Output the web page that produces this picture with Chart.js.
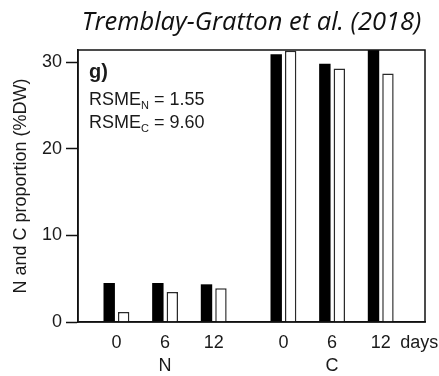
<!DOCTYPE html>
<html>
<head>
<meta charset="utf-8">
<script src="https://cdn.jsdelivr.net/npm/chart.js@4.4.1/dist/chart.umd.min.js"></script>
<style>
  html, body { margin: 0; padding: 0; background: #fff; }
  #wrap { width: 439px; height: 376px; position: relative; }
</style>
</head>
<body>
<div id="wrap"><canvas id="chart"></canvas></div>
<script>
// Proportions N et C (%DW) : mesuré (noir) / simulé (blanc), à 0, 6 et 12 jours
const days = ['0', '6', '12'];
const groups = ['N', 'C'];
const measuredN = [4.5, 4.5, 4.35];
const simulatedN = [1.15, 3.45, 3.9];
const measuredC = [30.9, 29.8, 33.0];
const simulatedC = [31.3, 29.25, 28.7];
const yTicks = [0, 10, 20, 30];
const rsmeN = '1.55';
const rsmeC = '9.60';
const titleText = 'Tremblay-Gratton et al. (2018)';

const FONT = "'Liberation Sans', Arial, sans-serif";
const INK = '#1a1a1a';

// Positions sur l'axe x : un espace un peu plus large entre les groupes N et C
const groupGap = 1.433;
const pos = [];
groups.forEach((g, gi) => days.forEach((d, i) => pos.push(gi * (days.length - 1 + groupGap) + i)));
const xMax = pos[pos.length - 1] + 0.91;
const daysPos = pos[pos.length - 1] + 0.79;

const tickLabels = [];
groups.forEach(g => days.forEach((d, i) => tickLabels.push(i === 1 ? [d, g] : d)));
tickLabels.push('days');

const toPoints = arr => arr.map((v, k) => ({ x: pos[k], y: v }));

const overlay = {
    id: 'overlay',
    afterDraw(chart) {
        const { ctx, chartArea: a } = chart;
        ctx.save();
        // cadre complet autour de la zone de tracé
        ctx.strokeStyle = '#111';
        ctx.lineWidth = 1.5;
        ctx.strokeRect(a.left, a.top, a.right - a.left, a.bottom - a.top);

        // titre
        ctx.fillStyle = '#111';
        ctx.textAlign = 'center';
        ctx.textBaseline = 'alphabetic';
        ctx.font = "italic 25.5px 'Open Sans', Lato, sans-serif";
        ctx.fillText(titleText, (a.left + a.right) / 2, 30);

        // étiquette du panneau et RSME
        ctx.textAlign = 'left';
        ctx.fillStyle = INK;
        ctx.font = 'bold 20px ' + FONT;
        ctx.fillText('g)', a.left + 11, 78);

        const rsmeLine = (sub, val, y) => {
            let x = a.left + 11;
            ctx.font = '18px ' + FONT;
            ctx.fillText('RSME', x, y);
            x += ctx.measureText('RSME').width;
            ctx.font = '11px ' + FONT;
            ctx.fillText(sub, x, y + 4);
            x += ctx.measureText(sub).width;
            ctx.font = '18px ' + FONT;
            ctx.fillText(' = ' + val, x, y);
        };
        rsmeLine('N', rsmeN, 105);
        rsmeLine('C', rsmeC, 128);
        ctx.restore();
    },
};

new Chart(document.getElementById('chart'), {
    type: 'bar',
    data: {
        datasets: [
            {
                label: 'Mesuré',
                data: toPoints([...measuredN, ...measuredC]),
                backgroundColor: '#000',
                borderWidth: 0,
            },
            {
                label: 'Simulé',
                data: toPoints([...simulatedN, ...simulatedC]),
                backgroundColor: '#fff',
                borderColor: '#2a2a2a',
                borderWidth: 1.5,
            },
        ],
    },
    options: {
        responsive: true,
        maintainAspectRatio: false,
        animation: false,
        categoryPercentage: 0.752,
        barPercentage: 0.79,
        layout: { padding: { top: 50, right: 14, left: 0, bottom: 0 } },
        plugins: {
            legend: { display: false },
            tooltip: { enabled: false },
            title: { display: false },
        },
        scales: {
            x: {
                type: 'linear',
                min: -0.79,
                max: xMax,
                offset: false,
                grid: { display: false, drawTicks: false },
                border: { display: true, color: '#111', width: 1.5 },
                afterBuildTicks: s => { s.ticks = [...pos, daysPos].map(v => ({ value: v })); },
                afterFit: s => { s.height = 54; s.paddingLeft = 0; s.paddingRight = 0; },
                ticks: {
                    autoSkip: false,
                    maxRotation: 0,
                    padding: 9,
                    color: INK,
                    font: { family: FONT, size: 18, lineHeight: 1.3 },
                    callback: (v, i) => tickLabels[i],
                },
            },
            y: {
                min: 0,
                max: 31.4,
                afterBuildTicks: s => { s.ticks = yTicks.map(v => ({ value: v })); },
                afterFit: s => { s.width = 78; },
                grid: { drawOnChartArea: false, drawTicks: true, tickLength: 12, color: '#111', tickWidth: 1.5 },
                border: { display: true, color: '#111', width: 1.5 },
                ticks: {
                    padding: 4,
                    color: INK,
                    font: { family: FONT, size: 18 },
                },
                title: {
                    display: true,
                    text: 'N and C proportion (%DW)',
                    color: INK,
                    font: { family: FONT, size: 18 },
                    padding: { top: 10, bottom: 0 },
                },
            },
        },
    },
    plugins: [overlay],
});
</script>
</body>
</html>
